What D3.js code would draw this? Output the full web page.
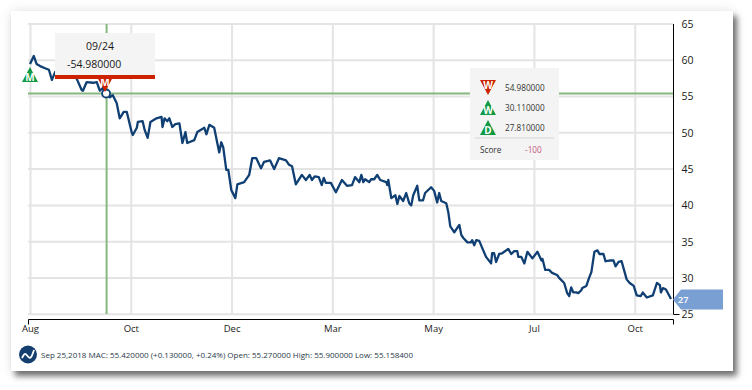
<!DOCTYPE html>
<html><head><meta charset="utf-8">
<script src="https://cdn.jsdelivr.net/npm/d3@7"></script>
<style>
html,body{margin:0;padding:0;background:#fff;width:752px;height:390px;overflow:hidden}
#card{position:absolute;left:11px;top:11px;width:722px;height:360px;background:#fff;box-shadow:4px 5px 6px rgba(0,0,0,.55),0 0 12px rgba(0,0,0,.1)}
svg{position:absolute;left:0;top:0;font-family:"Open Sans",sans-serif}
</style></head><body><div id="card"></div><svg id="c" width="752" height="390"></svg>
<script>
const sessions=[0,1.5,2.6,4,6,7.5,8.7,10,11,12.6,14,16,17.4,18.6,20.5,21,22.5,25,26.5,27.7,29,30,31.7,32.8,34.4,35.6,37.2,38.4,40.4,40.8,42.4,42.8,44.7,45.5,46.7,47.8,50.2,52.2,52.6,53.4,54.5,55.3,56.5,57.7,59.3,60.5,61.7,62.4,65.2,66.4,69.2,70,71.2,73.1,75.1,75.9,76.7,77.9,78.7,79.9,81.5,82.3,85,87,88.2,89.8,91.7,92.9,95.3,96.9,98.8,101.6,102.8,104,105.5,107.9,109.5,111,111.9,113,114.6,115.8,116.6,117.4,119.4,121.4,123.8,125.8,127.8,129,130.7,131.5,132.3,133,134.6,135.4,136.6,137.8,139,141.4,141.8,142.2,143.4,145,145.8,146.6,148.1,149.3,150.5,151.3,152.1,153.7,154.5,156,156.8,159.2,160.4,161.6,162.4,163.2,165.2,166,166.8,168.4,170.4,171.2,172,173.6,175,175.5,176.3,177.1,178.3,179.5,181,183,183.4,184.2,185,186.2,187.4,189.8,191,192.2,193.4,193.8,195,196.2,197.4,199.4,201.4,203,203.4,204.5,206,207.2,209.2,210,212,213.2,214,214.8,215.6,216.8,217.6,218.8,219.2,220.8,222,222.8,224,225.2,226,227.6,228.4,230,231.6,232.4,233.6,234.8,236,236.8,238,239.6,240.8,242.4,243.2,244.8,247.2,248.8,250,250.4,251.2,252.4,254.4];
const mac=[59.5,60.6,59.5,59.2,58.9,58.7,57.3,58.4,58.7,58.1,58.4,57.8,58.1,57.4,55.9,55.8,57,56.9,57,55.8,56.2,55.3,54.9,55.2,54.1,52,52.9,52.9,50,49.7,50.7,51.5,51.6,50.4,49.3,51.5,52,52.2,50.8,52,51.6,52,50.8,51.2,51.3,48.6,50.1,48.6,49,50.1,50.7,49.8,51.1,50.7,47.3,48.7,48,44.9,44.9,42.1,41,42.9,43.2,44.2,46.5,46.5,45.1,46,46.2,45,46.5,46.2,45.6,45.4,42.9,44.2,43.5,44.2,43.5,44,43.9,42.8,43.8,43.1,43.1,41.8,43.5,42.7,42.8,43.9,43.2,44.2,43.2,43.6,43.2,43.6,43.6,44.2,43.5,43.2,42.8,43.5,41,41.4,40.2,41.3,40.6,41.7,40.3,40,41.4,42.7,40.7,40.7,41.7,42.5,42,40.4,41.7,40.6,40.3,39.1,37.1,36.3,37.3,35.9,35.5,34.9,34.9,35.2,34.5,35.2,35.1,34.1,32.9,32,33.4,33.4,32.2,33.3,33.4,34,33.3,33.7,33.7,32.9,32.9,32,33.6,32.7,33.6,32.4,32.6,31.1,31.1,30.7,30.4,30,29.3,27.9,27.5,28.7,28,28,27.9,28.3,28.6,28.9,30.1,30.8,33.6,33.8,33.3,33.3,32.3,32.4,32.4,31.6,32.2,32.3,30.8,29.8,29.3,28.9,27.6,27.5,28,27.3,27.6,29.3,29,28,28.6,28.4,27.1];
const monthTicks=[0,40,80,120,160,200,240];
const monthLabels=["Aug","Oct","Dec","Mar","May","Jul","Oct"];
const priceTicks=[25,30,35,40,45,50,55,60,65];
const crossSession=30.4, crossValue=55.42;
const signalSession=[0], signalValue=[58];
const legendLetters=["W","W","D"], legendDirs=["down","up","up"];
const legendValues=["54.980000","30.110000","27.810000"];
const statusText="Sep 25,2018 MAC: 55.420000 (+0.130000, +0.24%) Open: 55.270000 High: 55.900000 Low: 55.158400";

const x=d3.scaleLinear().domain([0,254.4]).range([30,671]);
const y=d3.scaleLinear().domain([25,65]).range([314.2,24]);
const svg=d3.select("#c");
const grid="#e4e4e4",green="#85b87f",navy="#0f3f73",red="#cc2200",mk="#119a44",txt="#1a1a1a";

svg.append("g").selectAll("line").data(priceTicks).join("line")
 .attr("x1",28).attr("x2",673).attr("y1",d=>y(d)).attr("y2",d=>y(d)).attr("stroke",grid).attr("stroke-width",2);
svg.append("g").selectAll("line").data(monthTicks).join("line")
 .attr("x1",d=>x(d)+.5).attr("x2",d=>x(d)+.5).attr("y1",24).attr("y2",314).attr("stroke",grid).attr("stroke-width",2);
svg.append("line").attr("x1",x(crossSession)).attr("x2",x(crossSession)).attr("y1",24).attr("y2",314).attr("stroke",green).attr("stroke-width",2);
svg.append("line").attr("x1",28).attr("x2",673).attr("y1",y(crossValue)).attr("y2",y(crossValue)).attr("stroke",green).attr("stroke-width",2);
const line=d3.line().x((d,i)=>x(sessions[i])).y(d=>y(d));
svg.append("path").attr("d",line(mac)).attr("fill","none").attr("stroke",navy).attr("stroke-width",2.3).attr("stroke-linejoin","round");
svg.append("circle").attr("cx",x(crossSession)-.5).attr("cy",y(crossValue)).attr("r",4).attr("fill","#fff").attr("stroke",navy).attr("stroke-width",1.8);

function marker(g,cx,top,dir,letter,color){
  const w=8,h=15;
  const pts=dir==="up"
   ?[[cx,top],[cx+w,top+h],[cx-w,top+h]]
   :[[cx-w,top],[cx+w,top],[cx,top+h]];
  g.append("path").attr("d",d3.line()(pts)+"Z").attr("fill",color);
  g.append("text").attr("x",cx).attr("y",dir==="up"?top+h-1:top+9).attr("text-anchor","middle")
   .attr("fill","#fff").attr("font-size",10).attr("font-weight",700).text(letter);
}
marker(svg,x(signalSession[0]),67,"up","M",mk);
marker(svg,105,77,"down","M",red);

svg.append("rect").attr("x",55).attr("y",33).attr("width",100).attr("height",42).attr("fill","#f4f4f4");
svg.append("rect").attr("x",55).attr("y",75).attr("width",100).attr("height",4).attr("fill",red);
svg.append("text").attr("x",100).attr("y",50).attr("text-anchor","middle").attr("font-size",10.5).attr("fill",txt).text("09/24");
svg.append("text").attr("x",67).attr("y",68).attr("font-size",10.5).attr("fill",txt).text("-54.980000");

svg.append("rect").attr("x",470).attr("y",68).attr("width",89).attr("height",92).attr("fill","#f4f4f4");
legendValues.forEach((v,i)=>{
  marker(svg,488,80+i*20,legendDirs[i],legendLetters[i],legendDirs[i]==="down"?red:mk);
  svg.append("text").attr("x",505).attr("y",90.5+i*20).attr("font-size",8.2).attr("fill","#333").text(v);
});
svg.append("line").attr("x1",475).attr("x2",554).attr("y1",138).attr("y2",138).attr("stroke","#e4e4e4").attr("stroke-width",2);
svg.append("text").attr("x",480).attr("y",153).attr("font-size",8.2).attr("fill","#333").text("Score");
svg.append("text").attr("x",525).attr("y",153).attr("font-size",8.2).attr("fill","#c2557c").text("-100");

const ax=svg.append("g").attr("transform","translate(0,319.5)")
 .call(d3.axisBottom(x).tickValues(monthTicks).tickFormat((d,i)=>monthLabels[i]).tickSize(0).tickPadding(6));
ax.select(".domain").attr("d","M28.5,5V0H673.5V5").attr("stroke","#000");
ax.selectAll("text").attr("font-family","'Open Sans',sans-serif").attr("font-size",9.5).attr("fill",txt).attr("dy","0.71em");
const ay=svg.append("g").attr("transform","translate(673.5,0)")
 .call(d3.axisRight(y).tickValues(priceTicks).tickSize(0).tickPadding(8));
ay.select(".domain").attr("d","M0,24V314.5H6").attr("stroke","#000");
ay.selectAll("text").attr("font-family","'Open Sans',sans-serif").attr("font-size",10.5).attr("fill",txt);

const last=mac[mac.length-1], ly=y(last);
svg.append("path").attr("d",d3.line()([[673,ly+.5],[681,ly-9.5],[723,ly-9.5],[723,ly+10.5],[681,ly+10.5]])+"Z").attr("fill","#7a9fd3");
svg.append("text").attr("x",678).attr("y",ly+4).attr("font-size",9).attr("font-weight",600).attr("fill","#fff").text(Math.floor(last));

svg.append("circle").attr("cx",28).attr("cy",354.5).attr("r",9).attr("fill","#143f6e");
svg.append("path").attr("d",d3.line().curve(d3.curveBasis)([[22,358],[25,352],[28,357],[31,359],[34,350]])).attr("fill","none").attr("stroke","#fff").attr("stroke-width",1.8);
svg.append("text").attr("x",41).attr("y",358).attr("font-size",8).attr("fill","#2a3a4a").text(statusText);
</script></body></html>
